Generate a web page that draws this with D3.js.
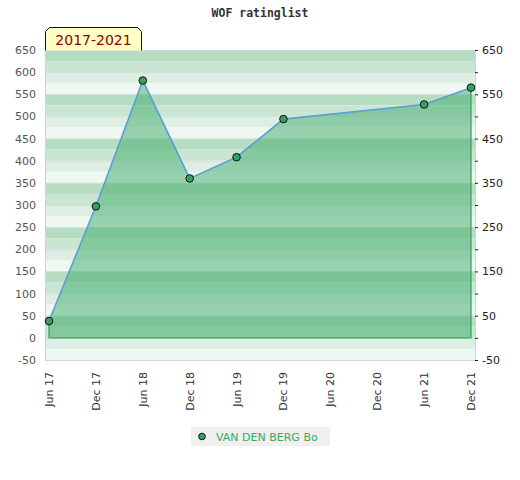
<!DOCTYPE html>
<html>
<head>
<meta charset="utf-8">
<script src="https://cdn.jsdelivr.net/npm/d3@7"></script>
<style>
  body { margin: 0; background: #fff; }
  svg { display: block; font-family: "DejaVu Sans", sans-serif; }
</style>
</head>
<body>
<div id="chart"></div>
<script>
// tick labels along the bottom, one every six months
var months = ["Jun 17", "Dec 17", "Jun 18", "Dec 18", "Jun 19", "Dec 19", "Jun 20", "Dec 20", "Jun 21", "Dec 21"];
// rating points for the player
var pointMonths = ["Jun 17", "Dec 17", "Jun 18", "Dec 18", "Jun 19", "Dec 19", "Jun 21", "Dec 21"];
var ratings = [38, 297, 581, 360, 408, 494, 527, 565];
var yTicks = [650, 600, 550, 500, 450, 400, 350, 300, 250, 200, 150, 100, 50, 0, -50];
var rightLabels = [650, 550, 450, 350, 250, 150, 50, -50];
var playerName = "VAN DEN BERG Bo";
var chartTitle = "WOF ratinglist";
var periodLabel = "2017-2021";

var width = 520, height = 480;
// plot box (note: "top" is taken by window.top)
var plotL = 45, plotR = 475, plotT = 50, plotB = 360;

var svg = d3.select("#chart").append("svg")
    .attr("width", width)
    .attr("height", height);

var x = d3.scalePoint()
    .domain(months)
    .range([plotL + 4, plotR - 4]);

var y = d3.scaleLinear()
    .domain([-50, 650])
    .range([plotB, plotT]);

// striped background, four shades repeating every 100 points
var bandColors = ["#b4ddc1", "#c9e6d3", "#ddefe4", "#eff7f2"];
var bands = d3.range(650, -50, -25);
svg.append("g").selectAll("rect")
    .data(bands)
    .enter().append("rect")
    .attr("x", plotL)
    .attr("width", plotR - plotL)
    .attr("y", function(d) { return y(d); })
    .attr("height", function(d) { return y(d - 25) - y(d); })
    .attr("fill", function(d, i) { return bandColors[i % 4]; });

// faint grid lines
svg.append("g").selectAll("line")
    .data(yTicks)
    .enter().append("line")
    .attr("x1", plotL).attr("x2", plotR)
    .attr("y1", function(d) { return y(d) + 0.5; })
    .attr("y2", function(d) { return y(d) + 0.5; })
    .attr("stroke", "#d6dcd8")
    .attr("stroke-width", 1);

svg.append("rect")
    .attr("x", plotL + 0.5).attr("y", plotT + 0.5)
    .attr("width", plotR - plotL).attr("height", plotB - plotT)
    .attr("fill", "none")
    .attr("stroke", "#d4d4d4");

var pts = pointMonths.map(function(m, i) { return {m: m, v: ratings[i]}; });

// area down to zero
var area = d3.area()
    .x(function(d) { return x(d.m); })
    .y0(y(0))
    .y1(function(d) { return y(d.v); });

svg.append("path")
    .datum(pts)
    .attr("d", area)
    .attr("fill", "#40ab69")
    .attr("fill-opacity", 0.5)
    .attr("stroke", "none");

// baseline and end edges of the area
var first = pts[0], last = pts[pts.length - 1];
svg.append("path")
    .attr("d", "M" + x(first.m) + "," + y(first.v) + "V" + y(0) +
               "H" + x(last.m) + "V" + y(last.v))
    .attr("fill", "none")
    .attr("stroke", "#3a9d5c")
    .attr("stroke-width", 1.2);

var line = d3.line()
    .x(function(d) { return x(d.m); })
    .y(function(d) { return y(d.v); });

svg.append("path")
    .datum(pts)
    .attr("d", line)
    .attr("fill", "none")
    .attr("stroke", "#5a9fd6")
    .attr("stroke-width", 1.6);

svg.append("g").selectAll("circle")
    .data(pts)
    .enter().append("circle")
    .attr("cx", function(d) { return x(d.m); })
    .attr("cy", function(d) { return y(d.v); })
    .attr("r", 3.8)
    .attr("fill", "#36a060")
    .attr("stroke", "#111")
    .attr("stroke-width", 1);

// left axis labels
svg.append("g").selectAll("text")
    .data(yTicks)
    .enter().append("text")
    .attr("x", 36)
    .attr("y", function(d) { return y(d) + 4; })
    .attr("text-anchor", "end")
    .attr("font-size", 11)
    .attr("fill", "#555")
    .text(function(d) { return d; });

// right axis
var rightAxis = d3.axisRight(y)
    .tickValues(yTicks)
    .tickSize(3)
    .tickPadding(4)
    .tickFormat(function(d) { return rightLabels.indexOf(d) >= 0 ? d : ""; });

var ra = svg.append("g")
    .attr("transform", "translate(" + plotR + ",0)")
    .call(rightAxis);
ra.select(".domain").remove();
ra.selectAll("line").attr("stroke", "#222");
ra.selectAll("text")
    .attr("font-size", 11)
    .attr("font-family", "DejaVu Sans, sans-serif")
    .attr("fill", "#222");

// bottom labels, rotated
svg.append("g").selectAll("text")
    .data(months)
    .enter().append("text")
    .attr("transform", function(d) {
        return "translate(" + (x(d) + 4) + ",372) rotate(-90)";
    })
    .attr("text-anchor", "end")
    .attr("font-size", 11)
    .attr("fill", "#333")
    .text(function(d) { return d; });

// title
svg.append("text")
    .attr("x", 260)
    .attr("y", 17)
    .attr("text-anchor", "middle")
    .attr("font-family", "DejaVu Sans Mono, monospace")
    .attr("font-weight", "bold")
    .attr("font-size", 11.5)
    .attr("fill", "#333")
    .text(chartTitle);

// period badge with clipped corners
var bx = 45.5, by = 27.5, bw = 96, bh = 23, c = 4;
svg.append("path")
    .attr("d", "M" + bx + "," + (by + bh) + "V" + (by + c) + "L" + (bx + c) + "," + by +
               "H" + (bx + bw - c) + "L" + (bx + bw) + "," + (by + c) + "V" + (by + bh))
    .attr("fill", "#ffffc4")
    .attr("stroke", "#111")
    .attr("stroke-width", 1);

svg.append("text")
    .attr("x", bx + bw / 2)
    .attr("y", 45)
    .attr("text-anchor", "middle")
    .attr("font-size", 14)
    .attr("fill", "#8b0000")
    .text(periodLabel);

// legend
var lg = svg.append("g").attr("transform", "translate(191,427)");
lg.append("rect")
    .attr("width", 139).attr("height", 19)
    .attr("fill", "#f0f0f0");
lg.append("circle")
    .attr("cx", 11).attr("cy", 9.5).attr("r", 3.3)
    .attr("fill", "#36a060").attr("stroke", "#111");
lg.append("text")
    .attr("x", 25).attr("y", 13.5)
    .attr("font-size", 11)
    .attr("fill", "#3aaa5e")
    .text(playerName);
</script>
</body>
</html>
